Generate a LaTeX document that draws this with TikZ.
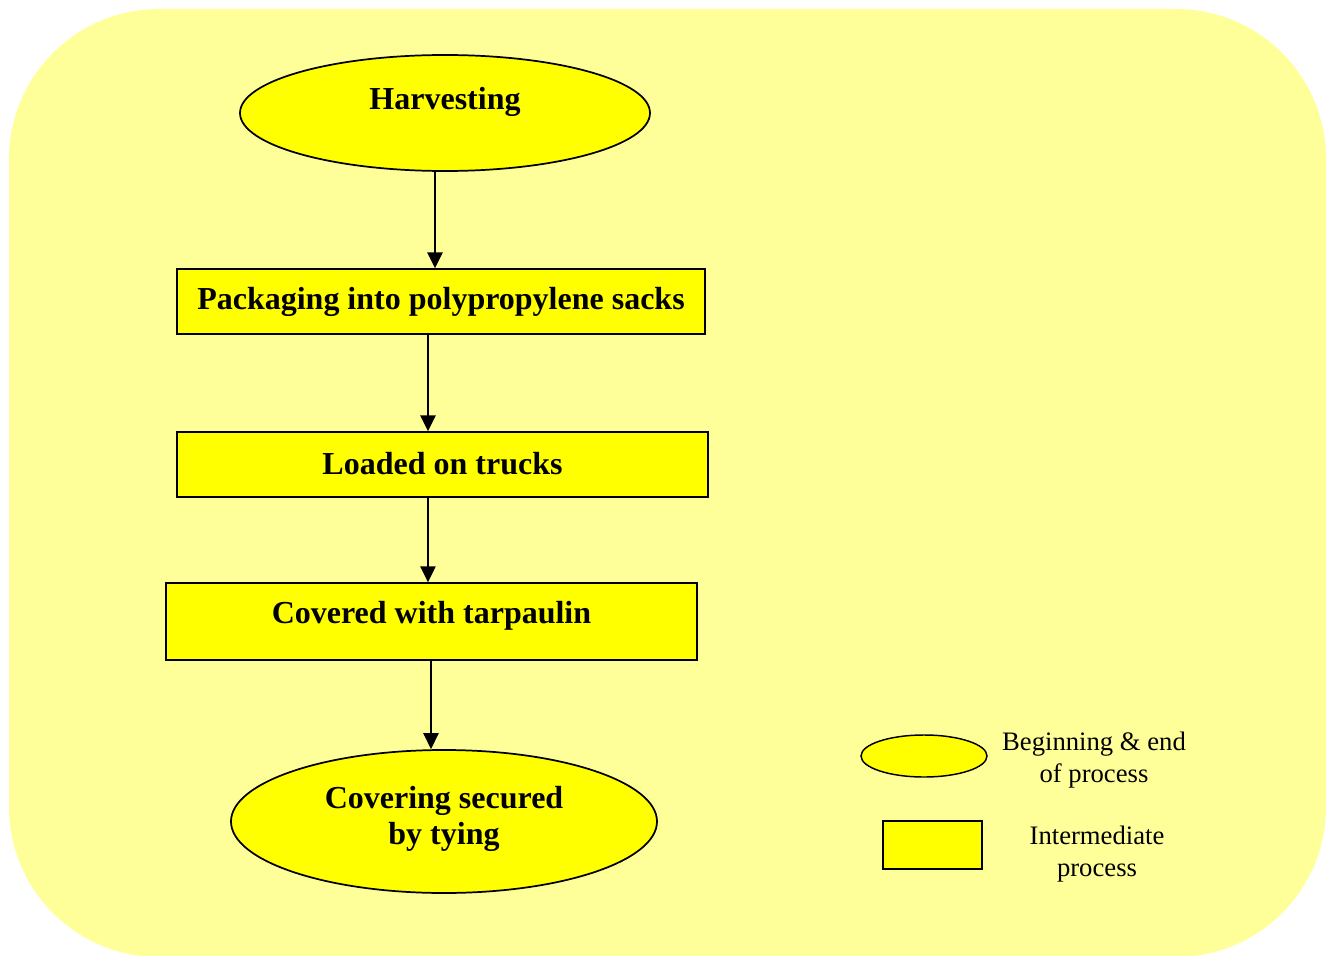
\documentclass[tikz,border=0pt]{standalone}
\usepackage{fontspec}
\setmainfont{Liberation Serif}
\usetikzlibrary{shapes.geometric,arrows.meta}
\definecolor{paleyellow}{HTML}{FFFF99}
\definecolor{boxyellow}{HTML}{FFFF00}
\begin{document}
\begin{tikzpicture}[x=0.75pt,y=-0.75pt,
  startend/.style={ellipse,draw=black,line width=1.3pt,fill=boxyellow,inner sep=0pt},
  stepbox/.style={rectangle,draw=black,line width=1.1pt,fill=boxyellow,inner sep=0pt},
  maintext/.style={font=\fontsize{24}{27.6}\selectfont\bfseries,align=center,inner sep=0pt},
  keytext/.style={font=\fontsize{20}{24}\selectfont,align=center,inner sep=0pt},
  arr/.style={line width=1.2pt,-{Triangle[length=12pt,width=11.5pt]}}]
\useasboundingbox (0,0) rectangle (1332,956);
\clip (0,0) rectangle (1332,956);
% rounded backdrop
\fill[paleyellow,rounded corners=112.5pt] (9,9) rectangle (1326,957);

% process steps
\node[startend,minimum width=307.5pt,minimum height=87pt] (harv) at (445,113) {};
\node[maintext] (harvt) at (445,102) {Harvesting};

\node[stepbox,minimum width=396pt,minimum height=48.75pt] (pack) at (441,301.5) {};
\node[maintext] (packt) at (441,302) {Packaging into polypropylene sacks};

\node[stepbox,minimum width=398.25pt,minimum height=48.75pt] (load) at (442.5,464.5) {};
\node[maintext] (loadt) at (442.5,464) {Loaded on trucks};

\node[stepbox,minimum width=398.25pt,minimum height=57.75pt] (cover) at (431.5,621.5) {};
\node[maintext] (covert) at (431.5,616) {Covered with tarpaulin};

\node[startend,minimum width=319.5pt,minimum height=107.25pt] (tie) at (444,821.5) {};
\node[maintext] (tiet) at (444,819) {Covering secured\\by tying};

% connectors
\draw[arr] ([xshift=-7.5pt]harv.south) -- ([xshift=-7.5pt]harv.south |- pack.north);
\draw[arr] ([xshift=-9.75pt]pack.south) -- ([xshift=-9.75pt]pack.south |- load.north);
\draw[arr] ([xshift=-10.9pt]load.south) -- ([xshift=-10.9pt]load.south |- cover.north);
\draw[arr] ([xshift=-0.375pt]cover.south) -- ([xshift=-0.375pt]cover.south |- tie.north);

% key
\node[startend,minimum width=94.5pt,minimum height=31.5pt,line width=1.1pt] (keyell) at (924,756) {};
\node[keytext] (keyellt) at (1094,760) {Beginning \& end\\of process};
\node[stepbox,minimum width=74.25pt,minimum height=36pt] (keybox) at (932.5,845) {};
\node[keytext] (keyboxt) at (1097,854) {Intermediate\\process};
\end{tikzpicture}
\end{document}
